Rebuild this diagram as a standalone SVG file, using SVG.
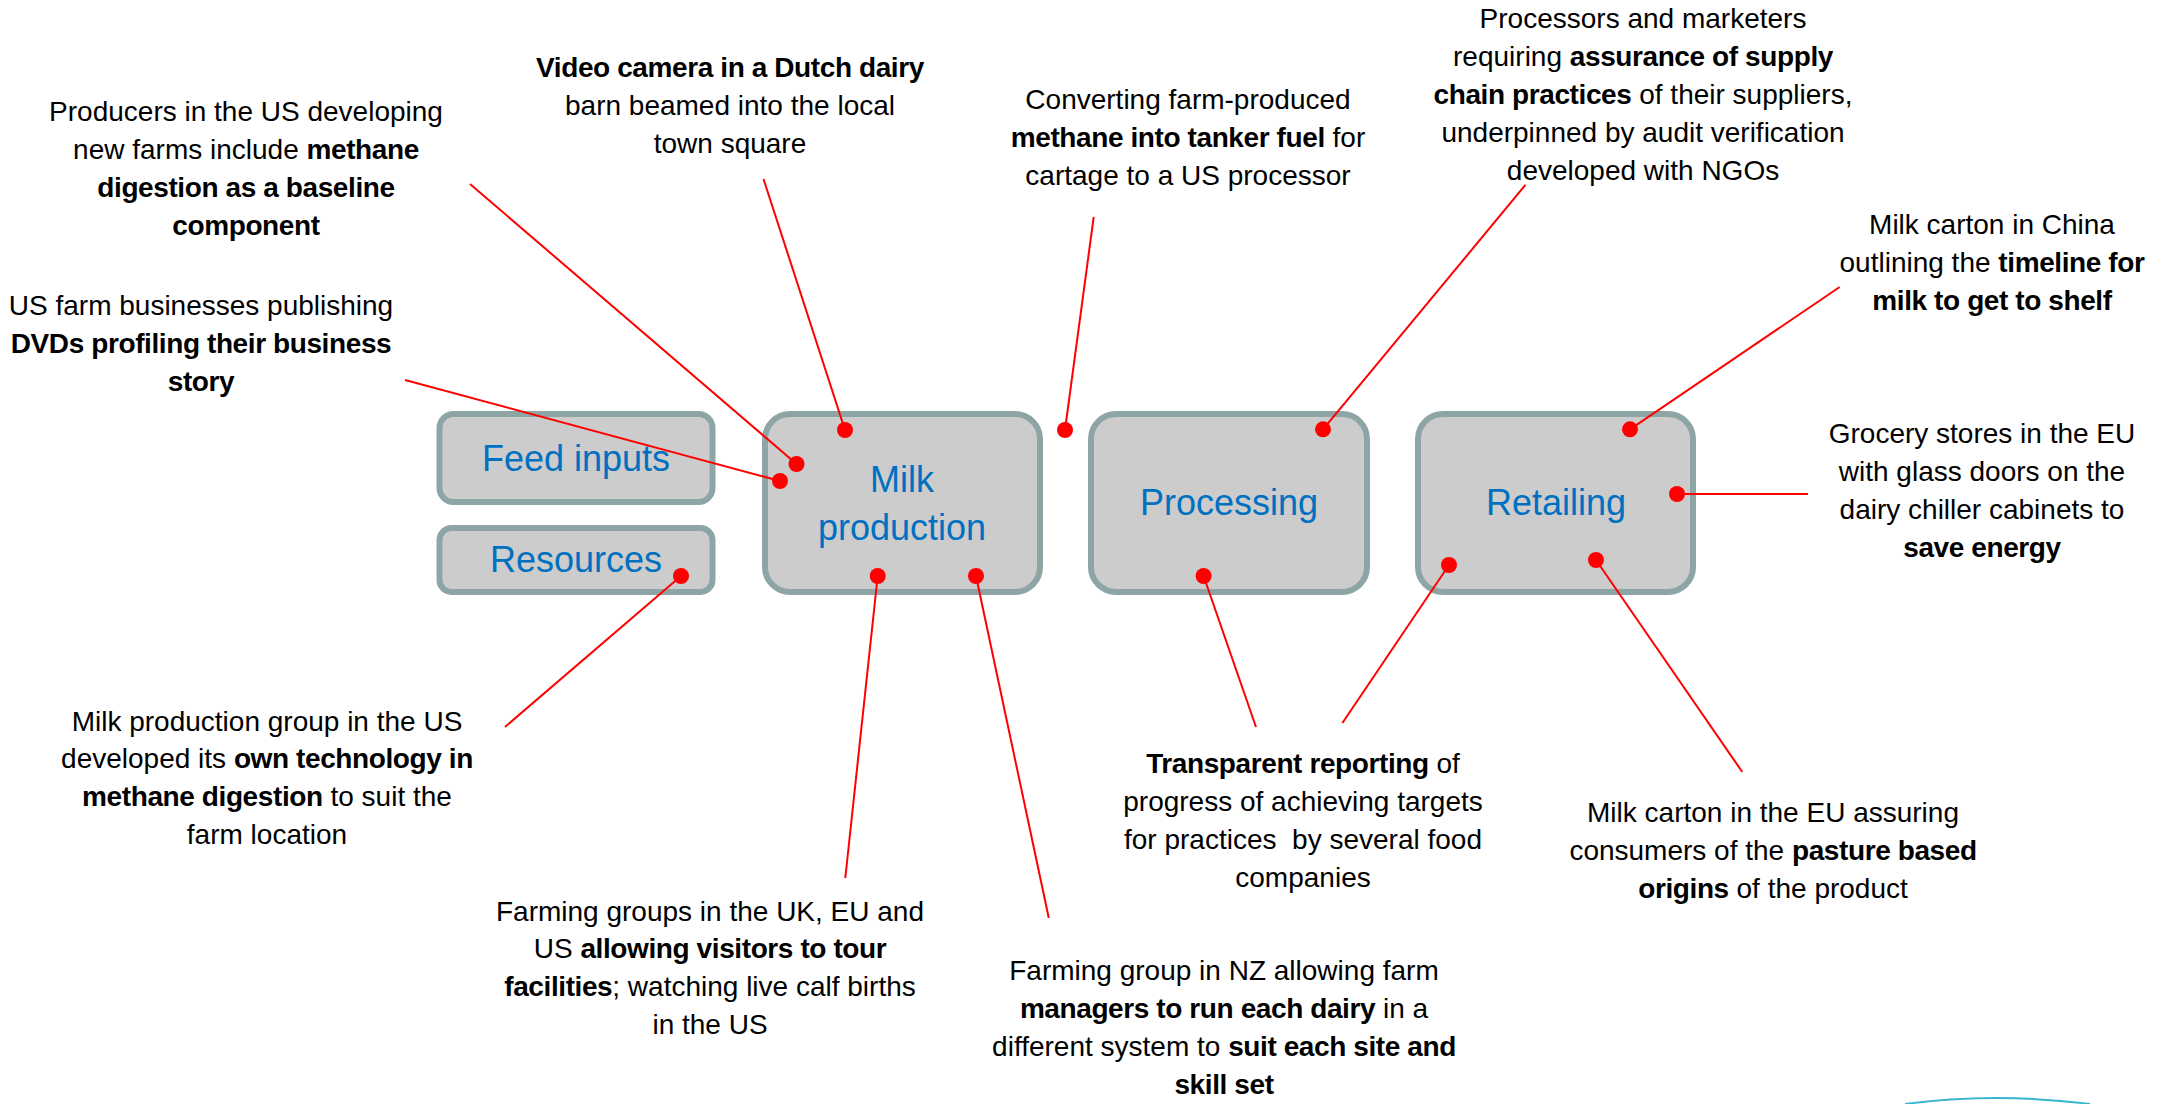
<svg xmlns="http://www.w3.org/2000/svg" width="2157" height="1104" viewBox="0 0 2157 1104">
<style>
.box{fill:#CCCCCC;stroke:#8EA5A6;stroke-width:6}
.lbl{font-family:"Liberation Sans",Arial,sans-serif;font-size:36px;fill:#0070C0;text-anchor:middle}
.t{font-family:"Liberation Sans",Arial,sans-serif;font-size:28px;fill:#000;text-anchor:middle}
.b{font-weight:bold;letter-spacing:-0.4px}
.con line{stroke:#FF0000;stroke-width:2}
.con circle{fill:#FF0000}
</style>
<rect width="2157" height="1104" fill="#FFFFFF"/>

<g id="node-feed-inputs">
<rect class="box" x="439.5" y="414" width="273" height="88" rx="14"/>
<text class="lbl" x="576" y="471">Feed inputs</text>
</g>
<g id="node-resources">
<rect class="box" x="439.5" y="528" width="273" height="64" rx="12"/>
<text class="lbl" x="576" y="572">Resources</text>
</g>
<g id="node-milk-production">
<rect class="box" x="765" y="414" width="275" height="178" rx="25"/>
<text class="lbl" x="902" y="492">Milk</text>
<text class="lbl" x="902" y="540">production</text>
</g>
<g id="node-processing">
<rect class="box" x="1091" y="414" width="276" height="178" rx="25"/>
<text class="lbl" x="1229" y="515">Processing</text>
</g>
<g id="node-retailing">
<rect class="box" x="1418" y="414" width="275" height="178" rx="25"/>
<text class="lbl" x="1556" y="515">Retailing</text>
</g>

<g id="connectors" class="con">
<line x1="763.5" y1="179" x2="845" y2="430"/>
<line x1="1093.7" y1="217" x2="1065" y2="430"/>
<line x1="470" y1="184" x2="796.5" y2="464"/>
<line x1="405" y1="380" x2="780" y2="481"/>
<line x1="681" y1="576" x2="505" y2="727"/>
<line x1="877.7" y1="576" x2="845.3" y2="878"/>
<line x1="976" y1="576" x2="1048.8" y2="918"/>
<line x1="1525.4" y1="185" x2="1323" y2="429.3"/>
<line x1="1203.6" y1="576" x2="1256" y2="727"/>
<line x1="1839.7" y1="287" x2="1630" y2="429.3"/>
<line x1="1677" y1="494" x2="1808" y2="494"/>
<line x1="1449" y1="565" x2="1342.4" y2="723"/>
<line x1="1596" y1="560" x2="1742.3" y2="772"/>
<circle cx="845" cy="430" r="8"/>
<circle cx="1065" cy="430" r="8"/>
<circle cx="796.5" cy="464" r="8"/>
<circle cx="780" cy="481" r="8"/>
<circle cx="681" cy="576" r="8"/>
<circle cx="877.7" cy="576" r="8"/>
<circle cx="976" cy="576" r="8"/>
<circle cx="1323" cy="429.3" r="8"/>
<circle cx="1203.6" cy="576" r="8"/>
<circle cx="1630" cy="429.3" r="8"/>
<circle cx="1677" cy="494" r="8"/>
<circle cx="1449" cy="565" r="8"/>
<circle cx="1596" cy="560" r="8"/>
</g>

<g id="note-producers-methane">
<text class="t" x="246" y="121">Producers in the US developing</text>
<text class="t" x="246" y="159">new farms include <tspan class="b">methane</tspan></text>
<text class="t b" x="246" y="197">digestion as a baseline</text>
<text class="t b" x="246" y="235">component</text>
</g>
<g id="note-video-camera">
<text class="t b" x="730" y="77">Video camera in a Dutch dairy</text>
<text class="t" x="730" y="115">barn beamed into the local</text>
<text class="t" x="730" y="153">town square</text>
</g>
<g id="note-dvds">
<text class="t" x="201" y="315">US farm businesses publishing</text>
<text class="t b" x="201" y="353">DVDs profiling their business</text>
<text class="t b" x="201" y="391">story</text>
</g>
<g id="note-tanker-fuel">
<text class="t" x="1188" y="109">Converting farm-produced</text>
<text class="t" x="1188" y="147"><tspan class="b">methane into tanker fuel</tspan> for</text>
<text class="t" x="1188" y="185">cartage to a US processor</text>
</g>
<g id="note-processors">
<text class="t" x="1643" y="28">Processors and marketers</text>
<text class="t" x="1643" y="66">requiring <tspan class="b">assurance of supply</tspan></text>
<text class="t" x="1643" y="104"><tspan class="b">chain practices</tspan> of their suppliers,</text>
<text class="t" x="1643" y="142">underpinned by audit verification</text>
<text class="t" x="1643" y="180">developed with NGOs</text>
</g>
<g id="note-china-carton">
<text class="t" x="1992" y="234">Milk carton in China</text>
<text class="t" x="1992" y="272">outlining the <tspan class="b">timeline for</tspan></text>
<text class="t b" x="1992" y="310">milk to get to shelf</text>
</g>
<g id="note-grocery">
<text class="t" x="1982" y="443">Grocery stores in the EU</text>
<text class="t" x="1982" y="481">with glass doors on the</text>
<text class="t" x="1982" y="519">dairy chiller cabinets to</text>
<text class="t b" x="1982" y="557">save energy</text>
</g>
<g id="note-own-technology">
<text class="t" x="267" y="731">Milk production group in the US</text>
<text class="t" x="267" y="768">developed its <tspan class="b">own technology in</tspan></text>
<text class="t" x="267" y="806"><tspan class="b">methane digestion</tspan> to suit the</text>
<text class="t" x="267" y="844">farm location</text>
</g>
<g id="note-visitors">
<text class="t" x="710" y="921">Farming groups in the UK, EU and</text>
<text class="t" x="710" y="958">US <tspan class="b">allowing visitors to tour</tspan></text>
<text class="t" x="710" y="996"><tspan class="b">facilities</tspan>; watching live calf births</text>
<text class="t" x="710" y="1034">in the US</text>
</g>
<g id="note-nz-managers">
<text class="t" x="1224" y="980">Farming group in NZ allowing farm</text>
<text class="t" x="1224" y="1018"><tspan class="b">managers to run each dairy</tspan> in a</text>
<text class="t" x="1224" y="1056">different system to <tspan class="b">suit each site and</tspan></text>
<text class="t b" x="1224" y="1094">skill set</text>
</g>
<g id="note-transparent-reporting">
<text class="t" x="1303" y="773"><tspan class="b">Transparent reporting</tspan> of</text>
<text class="t" x="1303" y="811">progress of achieving targets</text>
<text class="t" x="1303" y="849">for practices&#160; by several food</text>
<text class="t" x="1303" y="887">companies</text>
</g>
<g id="note-eu-carton">
<text class="t" x="1773" y="822">Milk carton in the EU assuring</text>
<text class="t" x="1773" y="860">consumers of the <tspan class="b">pasture based</tspan></text>
<text class="t" x="1773" y="898"><tspan class="b">origins</tspan> of the product</text>
</g>

<path d="M1905,1104 Q1995,1092 2090,1104" fill="none" stroke="#37B5CF" stroke-width="2"/>
</svg>
